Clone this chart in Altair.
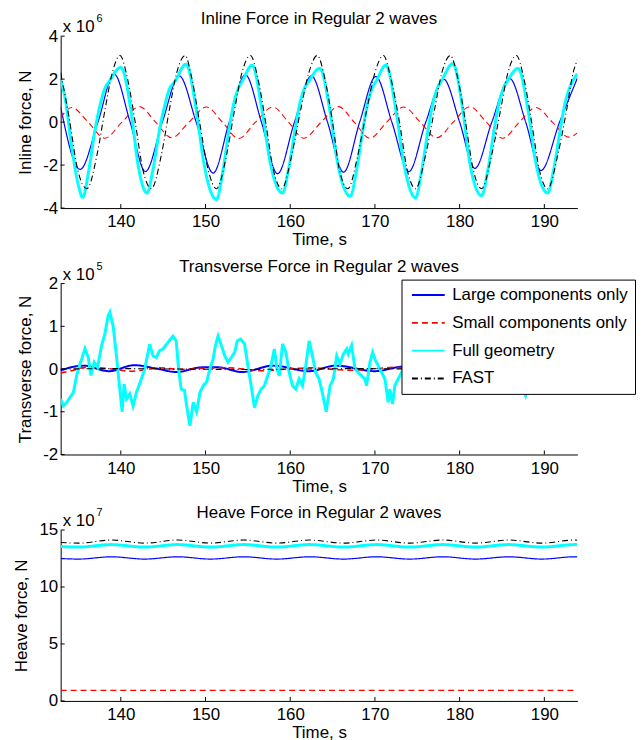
import altair as alt
import pandas as pd

FONT = "Liberation Sans"
T_MIN, T_MAX = 132.9, 193.9
X_TICKS = [140, 150, 160, 170, 180, 190]

SERIES = ["Large components only", "Small components only", "Full geometry", "FAST"]
COLORS = ["#0000ff", "#ff0000", "#00ffff", "#000000"]
DASHES = [[1, 0], [6, 4], [1, 0], [6, 3, 1, 3]]

# ---------------- Inline force (x 1e6 N) ----------------
inline_large_t = [132.9, 135.2, 137.3, 139.2, 141.1, 142.9, 144.9, 146.9, 148.9, 150.9, 152.8,
                  154.7, 156.6, 158.5, 160.5, 162.5, 164.4, 166.3, 168.2, 170.1, 172.0, 174.0,
                  176.0, 178.1, 180.0, 181.8, 183.8, 185.9, 187.8, 189.6, 191.8, 193.9]
inline_large_v = [0.7, -2.2, 0.0, 2.24, 0.0, -2.3, 0.0, 2.15, 0.0, -2.37, 0.0,
                  2.2, 0.0, -2.4, 0.0, 2.15, 0.0, -2.33, 0.0, 2.12, 0.0, -2.3,
                  0.0, 2.0, 0.0, -2.15, 0.0, 2.03, 0.0, -2.25, 0.0, 2.05]

inline_small_t = [132.9, 134.2, 136.15, 138.1, 140.15, 142.2, 144.1, 146.0, 148.05, 150.1, 152.0,
                  153.9, 155.9, 157.95, 159.8, 161.6, 163.65, 165.7, 167.55, 169.4, 171.4, 173.4,
                  175.35, 177.3, 179.25, 181.2, 183.15, 185.1, 187.05, 189.0, 190.95, 192.9, 193.9]
inline_small_v = [0.2, 0.68, 0.0, -0.75, 0.0, 0.72, 0.0, -0.73, 0.0, 0.7, 0.0,
                  -0.77, 0.0, 0.7, 0.0, -0.75, 0.0, 0.72, 0.0, -0.75, 0.0, 0.7,
                  0.0, -0.73, 0.0, 0.72, 0.0, -0.75, 0.0, 0.68, 0.0, -0.7, -0.5]

inline_full_t = [132.9, 133.4, 134.2, 135.0, 135.5, 136.2, 136.95, 137.5, 138.1, 138.7, 140.0,
                 141.25, 142.0, 143.1, 143.8, 144.6, 145.2, 145.7, 146.4, 147.7,
                 148.9, 149.8, 151.3, 152.0, 152.8, 153.3, 153.8, 154.4, 155.5,
                 156.7, 157.6, 159.1, 159.8, 160.6, 161.1, 161.6, 162.2, 163.5,
                 164.7, 165.6, 167.1, 167.8, 168.6, 169.1, 169.6, 170.2, 171.3,
                 172.5, 173.4, 174.8, 175.5, 176.3, 176.8, 177.3, 177.9, 179.2,
                 180.4, 181.2, 182.6, 183.3, 184.1, 184.6, 185.1, 185.7, 186.9,
                 188.1, 189.0, 190.4, 191.1, 191.9, 192.4, 192.9, 193.9]
inline_full_v = [1.95, 1.17, -1.14, -2.95, -3.5, -2.3, -0.37, 0.7, 1.55, 1.94, 2.55,
                 0.4, -1.9, -3.3, -2.2, -0.3, 0.8, 1.5, 1.9, 2.7,
                 0.6, -1.9, -3.6, -2.4, -0.3, 0.8, 1.5, 1.95, 2.65,
                 0.5, -1.8, -3.3, -2.2, -0.3, 0.8, 1.5, 1.9, 2.5,
                 0.5, -1.9, -3.45, -2.3, -0.3, 0.8, 1.5, 1.95, 2.65,
                 0.5, -1.9, -3.52, -2.3, -0.3, 0.8, 1.5, 1.95, 2.72,
                 0.5, -1.9, -3.42, -2.3, -0.3, 0.8, 1.5, 1.95, 2.5,
                 0.5, -1.9, -3.3, -2.2, -0.3, 0.8, 1.5, 2.25]

inline_fast_t = [132.9, 133.9, 134.9, 136.0, 137.2, 138.1, 139.0, 139.9, 140.8, 141.7, 142.6,
                 143.6, 144.8, 145.7, 146.6, 147.6, 148.4, 149.3, 150.3, 151.3, 152.5,
                 153.4, 154.3, 155.3, 156.2, 157.1, 158.0, 159.0, 160.2, 161.2, 162.2,
                 163.2, 164.1, 165.0, 165.8, 166.8, 168.0, 169.0, 170.0, 171.0, 171.9,
                 172.9, 173.8, 174.8, 176.0, 177.0, 177.9, 178.9, 179.8, 180.7, 181.6,
                 182.6, 183.8, 184.8, 185.7, 186.7, 187.6, 188.5, 189.4, 190.4, 191.6,
                 192.6, 193.4, 193.9]
inline_fast_v = [2.3, 0.2, -2.2, -3.1, -1.5, 0.5, 2.3, 3.1, 2.0, 0.0, -2.2,
                 -3.1, -1.5, 0.5, 2.3, 3.1, 2.0, 0.0, -2.2, -3.1, -1.5,
                 0.5, 2.3, 3.1, 2.0, 0.0, -2.2, -3.1, -1.5, 0.5, 2.3,
                 3.1, 2.0, 0.0, -2.2, -3.1, -1.5, 0.5, 2.3, 3.1, 2.0,
                 0.0, -2.2, -3.1, -1.5, 0.5, 2.3, 3.1, 2.0, 0.0, -2.2,
                 -3.1, -1.5, 0.5, 2.3, 3.1, 2.0, 0.0, -2.2, -3.1, -1.5,
                 0.5, 2.3, 2.9]

# ---------------- Transverse force (x 1e5 N) ----------------
trans_large_t = [132.9, 135.6, 138.6, 141.6, 144.0, 146.6, 149.6, 151.5, 154.3, 158.0, 162.2,
                 165.4, 170.0, 173.5, 177.5, 181.5, 185.5, 189.5, 193.9]
trans_large_v = [-0.03, 0.08, -0.05, 0.09, 0.02, -0.07, 0.04, 0.04, -0.07, 0.08, -0.05,
                 0.08, -0.05, 0.06, -0.05, 0.07, -0.05, 0.07, -0.03]

trans_small_t = [132.9, 134.2, 135.8, 137.4, 139.0, 141.2, 142.8, 144.5, 147.0, 149.6, 152.5,
                 155.0, 157.0, 159.6, 162.5, 165.3, 167.5, 170.0, 172.5, 175.0, 178.0,
                 181.0, 184.0, 187.0, 190.0, 193.9]
trans_small_v = [-0.09, -0.04, 0.04, 0.03, 0.0, -0.05, -0.02, 0.03, -0.01, 0.02, 0.03,
                 -0.01, -0.04, 0.0, 0.03, -0.01, -0.03, 0.01, 0.04, -0.01, -0.03,
                 0.02, 0.03, -0.02, -0.03, 0.02]

trans_full_t = [132.9, 133.22, 133.62, 134.01, 134.4, 134.79, 134.99, 135.38, 135.77, 136.16,
                136.47, 136.87, 137.26, 137.73, 138.12, 138.51, 138.71, 139.1, 139.49, 139.88,
                140.16, 140.39, 140.67, 141.06, 141.45, 141.84, 142.43, 142.82, 143.41, 143.8,
                144.19, 144.58, 144.97, 145.56, 146.15, 146.54, 146.82, 147.13, 147.52, 147.77,
                148.16, 148.55, 148.95, 149.34, 149.73, 150.12, 150.51, 150.9, 151.17, 151.48,
                151.88, 152.27, 152.66, 153.05, 153.44, 153.75, 154.14, 154.61, 155.0, 155.39,
                155.78, 156.17, 156.56, 156.95, 157.34, 157.73, 158.13, 158.44, 158.71, 159.1,
                159.49, 159.88, 160.27, 160.66, 161.05, 161.45, 161.84, 162.23, 162.62, 163.01,
                163.4, 163.79, 164.25, 164.71, 165.1, 165.49, 165.88, 166.27, 166.67, 166.86,
                167.25, 167.65, 168.04, 168.43, 168.82, 169.02, 169.41, 169.73, 170.0, 170.39,
                170.78, 171.18, 171.57, 171.76, 172.08, 172.35, 172.75, 173.14, 173.6, 174.2,
                174.8, 175.5, 176.2, 177.0, 177.8, 178.5, 179.3, 180.0, 180.8, 181.6,
                182.4, 183.2, 184.0, 184.8, 185.6, 186.4, 187.2, 187.8, 188.3, 189.0,
                189.8, 190.6, 191.4, 192.2, 193.0, 193.9]
trans_full_v = [-0.7, -0.86, -0.78, -0.66, -0.55, -0.15, 0.0, 0.23, 0.48, 0.27,
                -0.15, 0.16, 0.04, 0.55, 0.82, 1.25, 1.33, 1.0, 0.3, -0.47,
                -1.0, -0.35, -0.7, -0.58, -0.86, -0.55, -0.23, 0.0, 0.58, 0.31,
                0.27, 0.43, 0.47, 0.62, 0.77, 0.66, 0.0, -0.47, -0.5, -0.86,
                -1.33, -0.78, -1.0, -0.55, -0.39, -0.31, 0.0, 0.23, 0.55, 0.77,
                0.55, 0.31, 0.16, 0.27, 0.39, 0.66, 0.7, 0.59, 0.08, -0.39,
                -0.9, -0.63, -0.47, -0.39, -0.16, 0.08, 0.47, 0.0, -0.16, 0.59,
                0.39, -0.08, -0.39, -0.47, -0.23, -0.39, 0.08, 0.66, 0.31, -0.08,
                -0.23, -0.55, -1.0, -0.39, -0.23, 0.31, 0.12, 0.35, 0.47, 0.35,
                0.55, 0.0, -0.08, -0.16, -0.23, -0.39, 0.16, 0.39, 0.23, 0.08,
                -0.08, -0.23, -0.78, -0.47, -0.82, -0.39, -0.23, -0.08, 0.1, 0.45,
                0.2, 0.6, 0.3, -0.2, -0.4, 0.1, 0.5, 0.3, -0.1, -0.35,
                0.2, 0.55, 0.3, -0.1, -0.3, 0.1, -0.3, -0.62, -0.3, 0.2,
                0.5, 0.2, -0.2, -0.4, 0.0, 0.3]

trans_fast_t = [132.9, 140.0, 147.0, 154.0, 161.0, 168.0, 175.0, 182.0, 189.0, 193.9]
trans_fast_v = [0.0, 0.01, 0.0, -0.01, 0.0, 0.01, 0.0, -0.01, 0.0, 0.0]

# ---------------- Heave force (x 1e7 N) ----------------
heave_t = [132.9, 135.0, 138.9, 142.8, 146.7, 150.6, 154.5, 158.4, 162.3, 166.3, 170.2,
           174.1, 178.0, 181.9, 185.8, 189.7, 193.6, 193.9]
heave_large_v = [12.5, 12.45, 12.65, 12.45, 12.65, 12.45, 12.65, 12.45, 12.65, 12.45, 12.65,
                 12.45, 12.65, 12.45, 12.65, 12.45, 12.65, 12.65]
heave_full_v = [13.55, 13.5, 13.72, 13.5, 13.72, 13.5, 13.72, 13.5, 13.72, 13.5, 13.72,
                13.5, 13.72, 13.5, 13.72, 13.5, 13.72, 13.72]
heave_fast_v = [13.9, 13.85, 14.12, 13.85, 14.12, 13.85, 14.12, 13.85, 14.12, 13.85, 14.12,
                13.85, 14.12, 13.85, 14.12, 13.85, 14.12, 14.1]
heave_small_t = [132.9, 193.9]
heave_small_v = [0.93, 0.93]


def frame(parts):
    rows = []
    for name, ts, vs in parts:
        for t, v in zip(ts, vs):
            rows.append({"t": t, "v": v, "series": name})
    return pd.DataFrame(rows)


inline_df = frame([(SERIES[0], inline_large_t, inline_large_v),
                   (SERIES[1], inline_small_t, inline_small_v),
                   (SERIES[2], inline_full_t, inline_full_v),
                   (SERIES[3], inline_fast_t, inline_fast_v)])
trans_df = frame([(SERIES[0], trans_large_t, trans_large_v),
                  (SERIES[1], trans_small_t, trans_small_v),
                  (SERIES[2], trans_full_t, trans_full_v),
                  (SERIES[3], trans_fast_t, trans_fast_v)])
heave_df = frame([(SERIES[0], heave_t, heave_large_v),
                  (SERIES[1], heave_small_t, heave_small_v),
                  (SERIES[2], heave_t, heave_full_v),
                  (SERIES[3], heave_t, heave_fast_v)])

WIDTH = 520


def panel(df, title, ytitle, ydom, yticks, height, exp, full_interp, widths, legend):
    xenc = alt.X("t:Q", scale=alt.Scale(domain=[T_MIN, T_MAX], nice=False, zero=False),
                 axis=alt.Axis(values=X_TICKS, title="Time, s", grid=False, ticks=False, tickSize=0,
                               labelFont=FONT, labelFontSize=17, labelColor="black", labelPadding=6,
                               titleFont=FONT, titleFontSize=17, titleFontWeight="normal",
                               titleColor="black", titlePadding=2, domainColor="black",
                               labelFlush=False))
    yenc = alt.Y("v:Q", scale=alt.Scale(domain=ydom, nice=False, zero=False),
                 axis=alt.Axis(values=yticks, title=ytitle, grid=False, ticks=False, tickSize=0,
                               labelFont=FONT, labelFontSize=17, labelColor="black", labelPadding=3,
                               labelExpr="replace(datum.label, '\u2212', '-')",
                               titleFont=FONT, titleFontSize=17, titleFontWeight="normal",
                               titleColor="black", titlePadding=8, domainColor="black"))
    color = alt.Color("series:N", scale=alt.Scale(domain=SERIES, range=COLORS), legend=legend)
    dash = alt.StrokeDash("series:N", scale=alt.Scale(domain=SERIES, range=DASHES), legend=legend)
    layers = []
    for name, w in zip(SERIES, widths):
        interp = full_interp if name == SERIES[2] else "monotone"
        layers.append(
            alt.Chart(df).transform_filter(alt.datum.series == name)
            .mark_line(strokeWidth=w, interpolate=interp, clip=True)
            .encode(x=xenc, y=yenc, color=color, strokeDash=dash)
        )
    xt = alt.Chart(pd.DataFrame({"t": X_TICKS})).mark_rule(color="black").encode(
        x=xenc, y=alt.value(height), y2=alt.value(height - 4))
    yt = alt.Chart(pd.DataFrame({"v": yticks})).mark_rule(color="black").encode(
        y=yenc, x=alt.value(0), x2=alt.value(4))
    ttl = alt.Chart(pd.DataFrame({"s": [title]})).mark_text(
        align="center", baseline="alphabetic", font=FONT, fontSize=17, color="black").encode(
        text="s:N", x=alt.value(WIDTH / 2), y=alt.value(-12))
    e1 = alt.Chart(pd.DataFrame({"s": ["x 10"]})).mark_text(
        align="left", baseline="alphabetic", font=FONT, fontSize=17, color="black").encode(
        text="s:N", x=alt.value(2), y=alt.value(-4))
    e2 = alt.Chart(pd.DataFrame({"s": [exp]})).mark_text(
        align="left", baseline="alphabetic", font=FONT, fontSize=11, color="black").encode(
        text="s:N", x=alt.value(36), y=alt.value(-14))
    return alt.layer(*layers, xt, yt, ttl, e1, e2).properties(width=WIDTH, height=height)


legend = alt.Legend(orient="none", legendX=343, legendY=-4, title=None,
                    fillColor="white", strokeColor="black", padding=7,
                    labelFont=FONT, labelFontSize=17, labelColor="black", labelLimit=400,
                    symbolType="M-1,0L5.6,0", symbolSize=100, symbolStrokeWidth=1.8,
                    rowPadding=10, labelOffset=27)

p1 = panel(inline_df, "Inline Force in Regular 2 waves", "Inline force, N",
           [-4, 4], [-4, -2, 0, 2, 4], 173, "6", "monotone", [1.2, 1.1, 3, 1.1], None)
p2 = panel(trans_df, "Transverse Force in Regular 2 waves", "Transverse force, N",
           [-2, 2], [-2, -1, 0, 1, 2], 172, "5", "linear", [2.0, 1.6, 3, 1.1], legend)
p3 = panel(heave_df, "Heave Force in Regular 2 waves", "Heave force, N",
           [0, 15], [0, 5, 10, 15], 172, "7", "monotone", [1.2, 1.1, 3, 1.1], None)

chart = (
    alt.vconcat(p1, p2, p3, spacing=10)
    .resolve_scale(color="independent", strokeDash="independent")
    .resolve_legend(color="independent", strokeDash="independent")
    .properties(padding={"left": 5, "right": 0, "top": 0, "bottom": 0})
    .configure_view(stroke=None)
)

chart.save("out.html", embed_options={"renderer": "svg", "actions": False})
